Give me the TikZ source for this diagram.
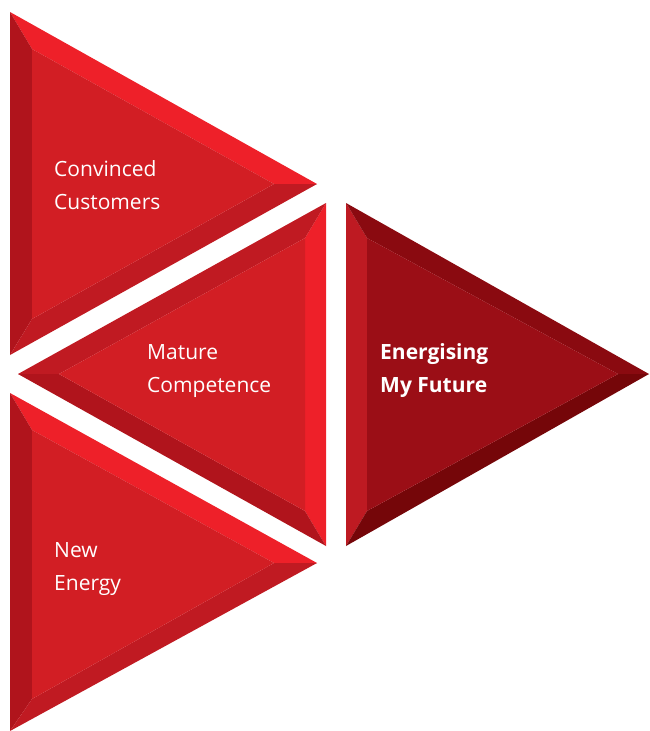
\documentclass[tikz,border=0pt]{standalone}
\usepackage{fontspec}
\setmainfont{Open Sans}
\definecolor{rbright}{RGB}{238,32,41}
\definecolor{rmid}{RGB}{192,26,34}
\definecolor{rdark}{RGB}{176,20,28}
\definecolor{rface}{RGB}{210,30,36}
\definecolor{dtop}{RGB}{138,10,16}
\definecolor{dbot}{RGB}{117,6,9}
\definecolor{dface}{RGB}{155,14,22}
\definecolor{dleft}{RGB}{190,26,34}
\tikzset{
  facet/.style={fill=#1,draw=none},
  lbl/.style={anchor=west,inner sep=0pt,align=left,text=white,font=\fontsize{21}{33}\selectfont}
}
\begin{document}
\begin{tikzpicture}[x=1pt,y=-1pt]
\useasboundingbox (0,0) rectangle (649,731);
% top triangle
\coordinate (A1) at (10,12); \coordinate (B1) at (10,355); \coordinate (C1) at (317,184);
\coordinate (a1) at (32,49); \coordinate (b1) at (32,319); \coordinate (c1) at (274,184);
\fill[facet=rbright] (A1) -- (C1) -- (c1) -- (a1) -- cycle;
\fill[facet=rdark] (A1) -- (a1) -- (b1) -- (B1) -- cycle;
\fill[facet=rmid] (B1) -- (b1) -- (c1) -- (C1) -- cycle;
\fill[facet=rface] (a1) -- (b1) -- (c1) -- cycle;
% bottom triangle
\coordinate (A3) at (10,393); \coordinate (B3) at (10,731); \coordinate (C3) at (317,563);
\coordinate (a3) at (32,430); \coordinate (b3) at (32,699); \coordinate (c3) at (274,563);
\fill[facet=rbright] (A3) -- (C3) -- (c3) -- (a3) -- cycle;
\fill[facet=rdark] (A3) -- (a3) -- (b3) -- (B3) -- cycle;
\fill[facet=rmid] (B3) -- (b3) -- (c3) -- (C3) -- cycle;
\fill[facet=rface] (a3) -- (b3) -- (c3) -- cycle;
% middle triangle (pointing left)
\coordinate (P) at (326,203); \coordinate (Q) at (326,546); \coordinate (R) at (18,374);
\coordinate (p) at (305,238); \coordinate (q) at (305,511); \coordinate (r) at (59,374);
\fill[facet=rbright] (P) -- (Q) -- (q) -- (p) -- cycle;
\fill[facet=rmid] (R) -- (P) -- (p) -- (r) -- cycle;
\fill[facet=rdark] (R) -- (r) -- (q) -- (Q) -- cycle;
\fill[facet=rface] (p) -- (q) -- (r) -- cycle;
% right dark triangle
\coordinate (U) at (346,203); \coordinate (V) at (346,546); \coordinate (W) at (649,374);
\coordinate (u) at (367,238); \coordinate (v) at (367,511); \coordinate (w) at (618,374);
\fill[facet=dleft] (U) -- (V) -- (v) -- (u) -- cycle;
\fill[facet=dtop] (U) -- (W) -- (w) -- (u) -- cycle;
\fill[facet=dbot] (V) -- (W) -- (w) -- (v) -- cycle;
\fill[facet=dface] (u) -- (v) -- (w) -- cycle;
% labels
\node[lbl] (t1) at (54,185) {Convinced\\Customers};
\node[lbl] (t2) at (147,371) {Mature\\Competence};
\node[lbl] (t3) at (54,569) {New\\Energy};
\node[lbl,font=\fontsize{21}{33}\selectfont\bfseries] (t4) at (380,371) {Energising\\My Future};
\end{tikzpicture}
\end{document}
